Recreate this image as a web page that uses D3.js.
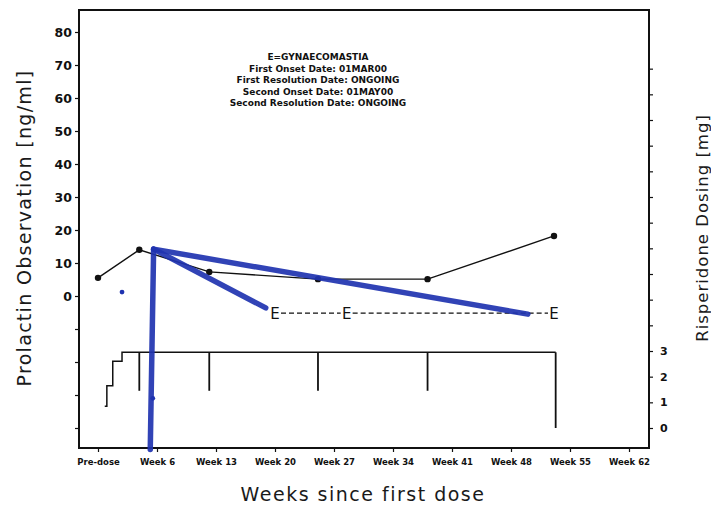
<!DOCTYPE html>
<html>
<head>
<meta charset="utf-8">
<script src="https://cdn.jsdelivr.net/npm/d3@7"></script>
<style>
  body { margin: 0; background: #fff; }
  text { font-family: "DejaVu Sans", sans-serif; }
</style>
</head>
<body>
<div class="chart"></div>
<script>
// prolactin observations (week, ng/ml)
const obsWeeks = [-1, 3.9, 12.2, 25.1, 38.1, 53.1];
const obsValues = [5.5, 14, 7.3, 5.1, 5.1, 18.2];

// adverse event markers (E)
const eventWeeks = [20.0, 28.5, 53.1];
const eventLevel = -5.2;

// risperidone dosing (mg): level changes at doseChangeWeeks
const doseStart = -0.2, doseEnd = 53.3;
const doseChangeWeeks = [0.05, 0.75, 1.85];
const doseLevels = [0.85, 1.65, 2.6, 2.95];
const visitWeeks = [3.9, 12.2, 25.1, 38.1];
const visitLow = 1.45;

// x ticks
const xTickWeeks = [-1, 6, 13, 20, 27, 34, 41, 48, 55, 62];
const xTickLabels = ['Pre-dose', 'Week 6', 'Week 13', 'Week 20', 'Week 27', 'Week 34', 'Week 41', 'Week 48', 'Week 55', 'Week 62'];
const leftTicks = [-40, -30, -20, -10, 0, 10, 20, 30, 40, 50, 60, 70, 80];
const rightTicks = [0, 1, 2, 3, 4, 5, 6, 7, 8, 9, 10, 11, 12, 13, 14];

const noteLines = ['E=GYNAECOMASTIA', 'First Onset Date: 01MAR00', 'First Resolution Date: ONGOING',
  'Second Onset Date: 01MAY00', 'Second Resolution Date: ONGOING'];

// blue pen marks on the scan (week, ng/ml)
const penStrokes = [
  [[5.6, 14.2], [5.2, -46.5]],
  [[5.6, 14.2], [18.9, -3.6]],
  [[5.6, 14.2], [50.0, -5.5]]
];
const penDots = [[1.85, 1.2], [5.5, -31]];

const W = 711, H = 506;
const box = {left: 79, right: 649, top: 10, bottom: 448};

const svg = d3.select('div.chart').append('svg')
  .attr('width', W)
  .attr('height', H);

const x = d3.scaleLinear().domain([-1, 62]).range([98, 629]);
const yL = d3.scaleLinear().domain([0, 80]).range([296, 32]);
const yR = d3.scaleLinear().domain([0, 3]).range([428, 351]);

// frame
svg.append('rect')
  .attr('x', box.left).attr('y', box.top)
  .attr('width', box.right - box.left).attr('height', box.bottom - box.top)
  .attr('fill', 'none').attr('stroke', '#111').attr('stroke-width', 2);

// left axis
const leftAxis = d3.axisLeft(yL).tickValues(leftTicks).tickSize(4)
  .tickFormat(d => d >= 0 ? d : '');
svg.append('g')
  .attr('transform', `translate(${box.left},0)`)
  .call(leftAxis)
  .call(g => g.select('.domain').remove())
  .call(g => g.selectAll('text').attr('font-size', 12.5).attr('font-weight', 'bold').attr('fill', '#111'));

// right axis
const rightAxis = d3.axisRight(yR).tickValues(rightTicks).tickSize(4)
  .tickFormat(d => d <= 3 ? d : '');
svg.append('g')
  .attr('transform', `translate(${box.right},0)`)
  .call(rightAxis)
  .call(g => g.select('.domain').remove())
  .call(g => g.selectAll('text').attr('font-size', 11).attr('font-weight', 'bold').attr('fill', '#111').attr('x', 11));

// bottom axis
const bottomAxis = d3.axisBottom(x).tickValues(xTickWeeks).tickSize(4)
  .tickFormat((d, i) => xTickLabels[i]);
svg.append('g')
  .attr('transform', `translate(0,${box.bottom})`)
  .call(bottomAxis)
  .call(g => g.select('.domain').remove())
  .call(g => g.selectAll('text').attr('font-size', 8.5).attr('font-weight', 'bold').attr('fill', '#111').attr('y', 11));

svg.selectAll('.tick line').attr('stroke', '#111').attr('stroke-width', 1.2);

// axis titles
const titleStyle = (sel, size, spacing) => sel
  .attr('text-anchor', 'middle')
  .attr('font-size', size)
  .attr('letter-spacing', spacing)
  .attr('fill', '#1a1a1a');

svg.append('text')
  .attr('transform', 'translate(31,228) rotate(-90)')
  .call(titleStyle, 19, 1.3)
  .text('Prolactin Observation [ng/ml]');

svg.append('text')
  .attr('transform', 'translate(708,228) rotate(-90)')
  .call(titleStyle, 16.5, 1)
  .text('Risperidone Dosing [mg]');

svg.append('text')
  .attr('x', 363).attr('y', 501)
  .call(titleStyle, 19, 1.5)
  .text('Weeks since first dose');

// annotation
svg.append('g').selectAll('text')
  .data(noteLines)
  .enter().append('text')
  .attr('x', 318).attr('y', (d, i) => 60 + i * 11.6)
  .attr('text-anchor', 'middle')
  .attr('font-size', 9).attr('font-weight', 'bold').attr('fill', '#111')
  .text(d => d);

// dosing step line
const stepPts = [[doseStart, doseLevels[0]]]
  .concat(doseChangeWeeks.map((w, i) => [w, doseLevels[i + 1]]))
  .concat([[doseEnd, doseLevels[doseLevels.length - 1]]]);
const stepLine = d3.line().x(d => x(d[0])).y(d => yR(d[1])).curve(d3.curveStepAfter);
svg.append('path')
  .attr('d', stepLine(stepPts))
  .attr('fill', 'none').attr('stroke', '#111').attr('stroke-width', 1.5);
svg.append('line')
  .attr('x1', x(doseEnd)).attr('x2', x(doseEnd))
  .attr('y1', yR(doseLevels[doseLevels.length - 1])).attr('y2', yR(0))
  .attr('stroke', '#111').attr('stroke-width', 1.8);

svg.append('g').selectAll('line')
  .data(visitWeeks)
  .enter().append('line')
  .attr('x1', d => x(d)).attr('x2', d => x(d))
  .attr('y1', yR(doseLevels[doseLevels.length - 1])).attr('y2', yR(visitLow))
  .attr('stroke', '#111').attr('stroke-width', 1.8);

// prolactin line
const obs = obsWeeks.map((w, i) => [w, obsValues[i]]);
const line = d3.line().x(d => x(d[0])).y(d => yL(d[1]));
svg.append('path')
  .attr('d', line(obs))
  .attr('fill', 'none').attr('stroke', '#111').attr('stroke-width', 1.4);
svg.append('g').selectAll('circle')
  .data(obs)
  .enter().append('circle')
  .attr('cx', d => x(d[0])).attr('cy', d => yL(d[1]))
  .attr('r', 3.2).attr('fill', '#111');

// event markers with dashed link
const evX = eventWeeks.map(w => x(w));
for (let i = 0; i < evX.length - 1; i++) {
  svg.append('line')
    .attr('x1', evX[i] + 6).attr('x2', evX[i + 1] - 6)
    .attr('y1', yL(eventLevel)).attr('y2', yL(eventLevel))
    .attr('stroke', '#111').attr('stroke-width', 1.3)
    .attr('stroke-dasharray', '5,3');
}
svg.append('g').selectAll('text')
  .data(eventWeeks)
  .enter().append('text')
  .attr('x', d => x(d)).attr('y', yL(eventLevel) + 5.5)
  .attr('text-anchor', 'middle')
  .attr('font-size', 15).attr('fill', '#111')
  .text('E');

// blue pen marks
svg.append('g').selectAll('path')
  .data(penStrokes)
  .enter().append('path')
  .attr('d', d => line(d))
  .attr('fill', 'none').attr('stroke', '#1f33b0').attr('stroke-width', 5.5)
  .attr('stroke-linecap', 'round').attr('opacity', 0.92);
svg.append('g').selectAll('circle')
  .data(penDots)
  .enter().append('circle')
  .attr('cx', d => x(d[0])).attr('cy', d => yL(d[1]))
  .attr('r', 2.4).attr('fill', '#1f33b0');
</script>
</body>
</html>
